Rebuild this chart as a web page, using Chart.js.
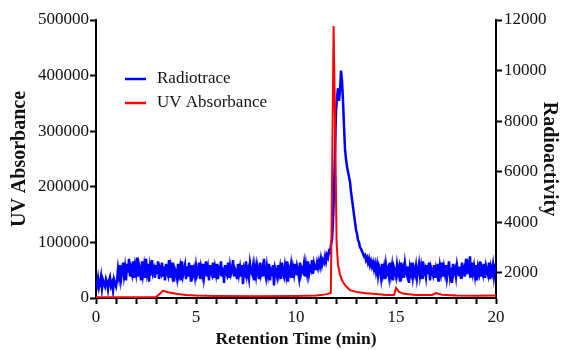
<!DOCTYPE html>
<html>
<head>
<meta charset="utf-8">
<script src="https://cdn.jsdelivr.net/npm/chart.js@4.4.1/dist/chart.umd.min.js"></script>
<style>
  html, body { margin: 0; padding: 0; background: #fff; }
  #wrap { width: 565px; height: 350px; }
</style>
</head>
<body>
<div id="wrap"><canvas id="hplc"></canvas></div>
<script>
// Radiotrace (right axis, counts), one reading every 0.05 min from 0 to 20
const radioStep = 0.05;
const radioCounts = [
  1650, 1500, 1780, 1420, 1600, 1850, 1380, 1700, 1550, 1450, 1750, 1620, 1350, 1680, 1820, 1480, 1600, 1300, 1720, 1560,
  1450, 1700, 2150, 1850, 2300, 1750, 2050, 2400, 1900, 2200, 1700, 2350, 2000, 2550, 1850, 2150, 1950, 2450, 1800, 2250,
  2000, 2600, 1850, 2300, 2100, 1700, 2450, 1950, 2250, 1800, 2550, 2050, 2350, 1650, 2200, 1900, 2500, 2000, 2150, 1800,
  2300, 1950, 2450, 1750, 2150, 2000, 2400, 1850, 2250, 1700, 2350, 2050, 1900, 2500, 1800, 2200, 1950, 2400, 1650, 2150,
  2050, 1800, 2350, 1950, 2200, 1700, 2450, 1900, 2100, 2300, 1750, 2250, 1850, 2400, 2000, 1650, 2300, 1950, 2150, 1850,
  2250, 1900, 2050, 2400, 1750, 2200, 1950, 2350, 1800, 2100, 2450, 1850, 2150, 1700, 2300, 2000, 1900, 2400, 1800, 2200,
  1950, 2350, 1750, 2150, 2050, 2450, 1850, 2200, 1600, 2300, 2000, 1900, 2400, 1800, 2250, 1950, 2100, 2500, 1850, 2150,
  2050, 1750, 2350, 1950, 2200, 1850, 2300, 1550, 2150, 2000, 2450, 1900, 2100, 1800, 2350, 2050, 1950, 2250, 1700, 2200,
  1900, 2300, 2050, 1750, 2400, 1950, 2150, 1850, 2550, 2000, 1800, 2250, 1950, 2350, 1700, 2100, 2000, 2300, 1500, 2200,
  2050, 1850, 2300, 1950, 2200, 1750, 2400, 2000, 1850, 2250, 1950, 2450, 1650, 2150, 2000, 2300, 1800, 2200, 1950, 2350,
  1900, 2250, 2050, 1800, 2400, 1950, 2150, 2050, 2350, 1850, 2300, 2000, 2450, 1950, 2200, 2100, 2500, 1950, 2350, 2150,
  2150, 2400, 2200, 2450, 2250, 2550, 2300, 2500, 2400, 2650, 2450, 2700, 2600, 2850, 2800, 3100, 3300, 4000, 5200, 6800,
  8400, 8900, 9300, 8800, 9200, 10000, 9600, 8800, 7800, 6900, 6500, 6200, 6000, 5800, 5600, 5200, 4900, 4600, 4300, 4000,
  3700, 3550, 3300, 3200, 3000, 2950, 2850, 2750, 2650, 2700, 2500, 2600, 2400, 2550, 2300, 2450, 2250, 2400, 2150, 2350,
  2050, 2300, 1900, 2250, 2100, 1800, 2350, 1950, 2200, 1750, 2300, 2000, 2150, 1850, 2400, 1950, 2250, 1700, 2200, 2050,
  1850, 2300, 2000, 2200, 1650, 2400, 1950, 2150, 1800, 2350, 2050, 1900, 2250, 1600, 2200, 2000, 2400, 1850, 2150, 1950,
  2250, 1800, 2100, 2350, 1900, 2200, 1750, 2450, 2000, 2150, 1850, 2300, 1950, 2400, 1700, 2200, 2050, 1900, 2300, 1800,
  2150, 1950, 2350, 1650, 2250, 2000, 2400, 1850, 2200, 1950, 2300, 1800, 2100, 2450, 1900, 2200, 1600, 2350, 2000, 2150,
  1850, 2300, 2050, 1900, 2250, 1750, 2400, 2000, 2150, 1850, 2550, 1950, 2300, 2100, 2650, 1800, 2400, 2000, 2250, 1900,
  2300, 1700, 2200, 2000, 2450, 1850, 2150, 1950, 2350, 1800, 2250, 2050, 1900, 2400, 1750, 2200, 2000, 2300, 1850, 2150,
  2000
];

// UV absorbance (left axis)
const uvTime = [0, 3.0, 3.2, 3.35, 3.6, 4.0, 4.5, 5.0, 6, 8, 10, 11, 11.5, 11.74, 11.8, 11.88, 11.96, 12.03, 12.1, 12.2, 12.3, 12.45, 12.7, 13.0, 13.5, 14.0, 14.5, 14.9, 15.0, 15.15, 15.4, 16, 16.8, 17.0, 17.3, 18, 19, 20];
const uvAbs = [1500, 1500, 8000, 13000, 10500, 7500, 5500, 4500, 3500, 3000, 3500, 4500, 6500, 9000, 200000, 489000, 300000, 100000, 60000, 42000, 32000, 23000, 14000, 11000, 8500, 7000, 5500, 5500, 18000, 11000, 7500, 5500, 5500, 9000, 6000, 4500, 4000, 4500];

const seriesNames = ['Radiotrace', 'UV Absorbance'];
const uvTicks = [0, 100000, 200000, 300000, 400000, 500000];
const radioTicks = [2000, 4000, 6000, 8000, 10000, 12000];
const timeLabels = [0, 5, 10, 15, 20];

const serif = "'Liberation Serif', 'Times New Roman', serif";

const radioPoints = radioCounts.map((v, i) => ({ x: i * radioStep, y: v }));
const uvPoints = uvTime.map((t, i) => ({ x: t, y: uvAbs[i] }));

// legend drawn inside the plot like the original figure
const innerLegend = {
  id: 'innerLegend',
  afterDraw(chart) {
    const ctx = chart.ctx;
    ctx.save();
    ctx.font = '17px ' + serif;
    ctx.textBaseline = 'middle';
    chart.data.datasets.forEach((ds, i) => {
      const y = 79 + i * 24;
      ctx.strokeStyle = ds.borderColor;
      ctx.lineWidth = 2.5;
      ctx.beginPath();
      ctx.moveTo(125, y);
      ctx.lineTo(146, y);
      ctx.stroke();
      ctx.fillStyle = '#111';
      ctx.fillText(ds.label, 157, y);
    });
    ctx.restore();
  }
};

const ctx = document.getElementById('hplc').getContext('2d');
const hplcChart = new Chart(ctx, {
  type: 'line',
  data: {
    datasets: [{
      label: seriesNames[0],
      data: radioPoints,
      yAxisID: 'yRadio',
      borderColor: '#0000ff',
      borderWidth: 2.5,
      pointRadius: 0,
      order: 1
    }, {
      label: seriesNames[1],
      data: uvPoints,
      yAxisID: 'yUV',
      borderColor: '#ff0000',
      borderWidth: 2,
      pointRadius: 0,
      order: 0
    }]
  },
  options: {
    responsive: true,
    maintainAspectRatio: false,
    animation: false,
    layout: { padding: { top: 20, left: 0, right: 0, bottom: 0 } },
    plugins: {
      legend: { display: false },
      tooltip: { enabled: false }
    },
    scales: {
      x: {
        type: 'linear',
        min: 0,
        max: 20,
        border: { color: '#000', width: 2 },
        grid: { drawOnChartArea: false, drawTicks: true, tickLength: 6, tickWidth: 2, tickColor: '#000' },
        ticks: {
          stepSize: 1,
          autoSkip: false,
          maxRotation: 0,
          color: '#111',
          font: { family: serif, size: 17 },
          callback: v => timeLabels.includes(v) ? String(v) : ''
        },
        title: {
          display: true,
          text: 'Retention Time (min)',
          color: '#111',
          font: { family: serif, size: 17.5, weight: 'bold' },
          padding: { top: 0, bottom: 0 }
        },
        afterFit: s => { s.height = 52; }
      },
      yUV: {
        position: 'left',
        min: 0,
        max: 500000,
        border: { color: '#000', width: 2 },
        grid: { drawOnChartArea: false, tickLength: 6, tickWidth: 2, tickColor: '#000' },
        afterBuildTicks: axis => { axis.ticks = uvTicks.map(v => ({ value: v })); },
        ticks: {
          color: '#111',
          font: { family: serif, size: 17 },
          padding: 1,
          callback: v => String(v)
        },
        title: {
          display: true,
          text: 'UV Absorbance',
          color: '#111',
          font: { family: serif, size: 20, weight: 'bold' },
          padding: { top: 8, bottom: 0 }
        },
        afterFit: s => { s.width = 96; }
      },
      yRadio: {
        position: 'right',
        min: 1000,
        max: 12000,
        border: { color: '#000', width: 2 },
        grid: { drawOnChartArea: false, tickLength: 6, tickWidth: 2, tickColor: '#000' },
        afterBuildTicks: axis => { axis.ticks = radioTicks.map(v => ({ value: v })); },
        ticks: {
          color: '#111',
          font: { family: serif, size: 17 },
          padding: 2,
          callback: v => String(v)
        },
        title: {
          display: true,
          text: 'Radioactivity',
          color: '#111',
          font: { family: serif, size: 20, weight: 'bold' },
          padding: { top: 4, bottom: 0 }
        },
        afterFit: s => { s.width = 69; }
      }
    }
  },
  plugins: [innerLegend]
});
</script>
</body>
</html>
